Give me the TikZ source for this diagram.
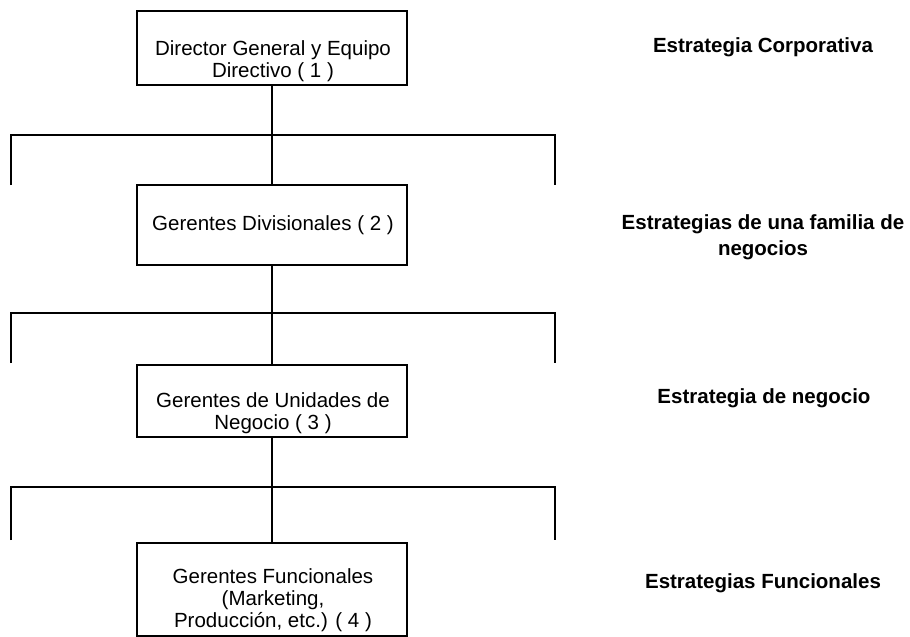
\documentclass[tikz,border=0pt]{standalone}
\usepackage{fontspec}
\setmainfont{Liberation Sans}
\begin{document}
\begin{tikzpicture}[x=1pt,y=-1pt,line width=2pt,
  unit/.style={draw, line width=2pt, minimum width=270pt, inner sep=0pt},
  boxtext/.style={font=\fontsize{20.5}{22}\selectfont, align=center, inner sep=0pt},
  levelname/.style={font=\fontsize{20.5}{26}\selectfont\bfseries, align=center, inner sep=0pt}]
\useasboundingbox (0,0) rectangle (910,637);

% management levels
\node[unit, minimum height=74pt] (b1) at (272,48) {};
\node[unit, minimum height=80pt] (b2) at (272,225) {};
\node[unit, minimum height=72pt] (b3) at (272,401) {};
\node[unit, minimum height=93pt] (b4) at (272,589.5) {};

\node[boxtext] (t1) at (273,61) {Director General y Equipo\\Directivo ( 1 )};
\node[boxtext] (t2) at (273,225) {Gerentes Divisionales ( 2 )};
\node[boxtext] (t3) at (273,413) {Gerentes de Unidades de\\Negocio ( 3 )};
\node[boxtext] (t4) at (273,600) {Gerentes Funcionales\\(Marketing,\\Producción, etc.) ( 4 )};

% strategy at each level
\node[levelname] (s1) at (763,47) {Estrategia Corporativa};
\node[levelname] (s2) at (763,237) {Estrategias de una familia de\\negocios};
\node[levelname] (s3) at (764,398) {Estrategia de negocio};
\node[levelname] (s4) at (763,583) {Estrategias Funcionales};

% branching bars
\coordinate (h1l) at (11,135);  \coordinate (h1r) at (555,135);
\coordinate (k1l) at (11,185);  \coordinate (k1r) at (555,185);
\coordinate (h2l) at (11,313);  \coordinate (h2r) at (555,313);
\coordinate (k2l) at (11,363);  \coordinate (k2r) at (555,363);
\coordinate (h3l) at (11,487);  \coordinate (h3r) at (555,487);
\coordinate (k3l) at (11,540);  \coordinate (k3r) at (555,540);

\draw (k1l) -- (h1l) -- (h1r) -- (k1r);
\draw (k2l) -- (h2l) -- (h2r) -- (k2r);
\draw (k3l) -- (h3l) -- (h3r) -- (k3r);

% vertical links between levels
\draw (b1.south) -- (b2.north);
\draw (b2.south) -- (b3.north);
\draw (b3.south) -- (b4.north);
\end{tikzpicture}
\end{document}
